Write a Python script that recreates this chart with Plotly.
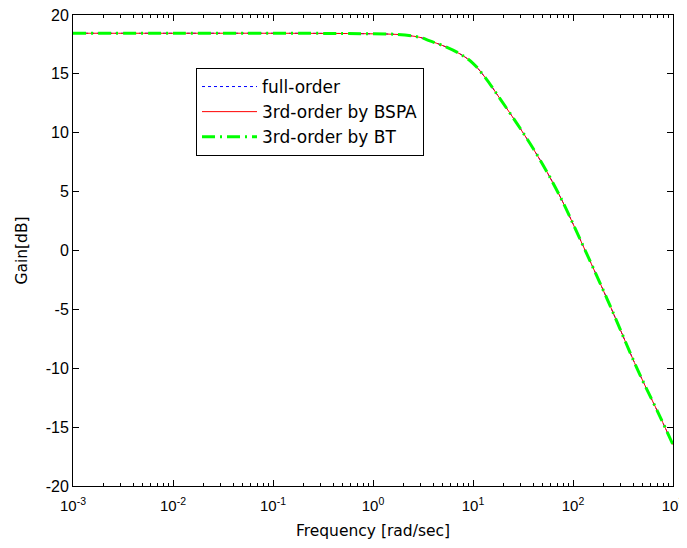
import plotly.graph_objects as go

# ---- data ----
freq = [0.001, 0.01, 0.1, 0.5, 1.0, 1.74, 2.95, 3.7, 5.0, 7.4, 10.0, 13.2,
        18.6, 29.5, 46.8, 74.1, 117.0, 219.0, 447.0, 741.0, 1000.0]
gain_full = [18.45, 18.45, 18.45, 18.43, 18.40, 18.35, 18.10, 17.80, 17.40, 16.70,
             15.90, 14.70, 12.90, 10.40, 7.70, 4.60, 1.00, -4.10, -10.20, -14.10, -16.50]
gain_bspa = [18.45, 18.45, 18.45, 18.43, 18.40, 18.35, 18.10, 17.80, 17.40, 16.70,
             15.90, 14.70, 12.90, 10.40, 7.70, 4.60, 1.00, -4.10, -10.20, -14.10, -16.50]
gain_bt = [18.45, 18.45, 18.45, 18.43, 18.40, 18.35, 18.10, 17.80, 17.40, 16.70,
           15.90, 14.70, 12.90, 10.40, 7.70, 4.60, 1.00, -4.10, -10.20, -14.10, -16.50]

series_names = ["full-order", "3rd-order by BSPA", "3rd-order by BT"]

x_tickvals = [0.001, 0.01, 0.1, 1, 10, 100, 1000]
x_ticktext = ["10<sup>-3</sup>", "10<sup>-2</sup>", "10<sup>-1</sup>", "10<sup>0</sup>",
              "10<sup>1</sup>", "10<sup>2</sup>", "10<sup>3</sup>"]
y_tickvals = [-20, -15, -10, -5, 0, 5, 10, 15, 20]
y_ticktext = ["-20", "-15", "-10", "-5", "0", "5", "10", "15", "20"]

fig = go.Figure()
fig.add_trace(go.Scatter(x=freq, y=gain_full, mode="lines", name=series_names[0],
                         line=dict(color="#0000FF", width=1, dash="dot", shape="spline")))
fig.add_trace(go.Scatter(x=freq, y=gain_bspa, mode="lines", name=series_names[1],
                         line=dict(color="#FF0000", width=1, dash="solid", shape="spline")))
fig.add_trace(go.Scatter(x=freq, y=gain_bt, mode="lines", name=series_names[2],
                         line=dict(color="#00FF00", width=3, dash="13px,5px,2px,5px", shape="spline")))

xtick_font = dict(family="Liberation Sans, Arial, sans-serif", size=15, color="black")
ytick_font = dict(family="Liberation Sans, Arial, sans-serif", size=16, color="black")
text_font = dict(family="DejaVu Sans, sans-serif", size=15.5, color="black")

# page body adds an 8px offset; figure sized so the page does not scroll
fig.update_layout(
    width=679, height=532,
    margin=dict(l=65, r=14, t=7, b=54, autoexpand=False),
    paper_bgcolor="white", plot_bgcolor="white",
    showlegend=True,
    legend=dict(x=0.205, y=0.8875, xanchor="left", yanchor="top",
                bgcolor="white", bordercolor="black", borderwidth=1,
                font=dict(family="DejaVu Sans, sans-serif", size=17, color="black"),
                itemwidth=55, tracegroupgap=0),
)
fig.update_xaxes(
    type="log", range=[-3, 3], automargin=False,
    tickmode="array", tickvals=x_tickvals, ticktext=x_ticktext,
    tickfont=xtick_font, ticklabeloverflow="allow", ticklabelstandoff=6,
    ticks="inside", ticklen=6, tickcolor="black",
    minor=dict(dtick="D1", ticks="inside", ticklen=3, tickcolor="black", showgrid=False),
    showline=True, linecolor="black", linewidth=1, mirror="allticks",
    showgrid=False, zeroline=False,
    title=dict(text="Frequency [rad/sec]", font=text_font, standoff=13),
)
fig.update_yaxes(
    range=[-20, 20], automargin=False,
    tickmode="array", tickvals=y_tickvals, ticktext=y_ticktext,
    tickfont=ytick_font, ticklabeloverflow="allow",
    ticks="inside", ticklen=6, tickcolor="black",
    showline=True, linecolor="black", linewidth=1, mirror="allticks",
    showgrid=False, zeroline=False,
    title=dict(text="Gain[dB]", font=text_font, standoff=14),
)

fig.write_html("out.html")
